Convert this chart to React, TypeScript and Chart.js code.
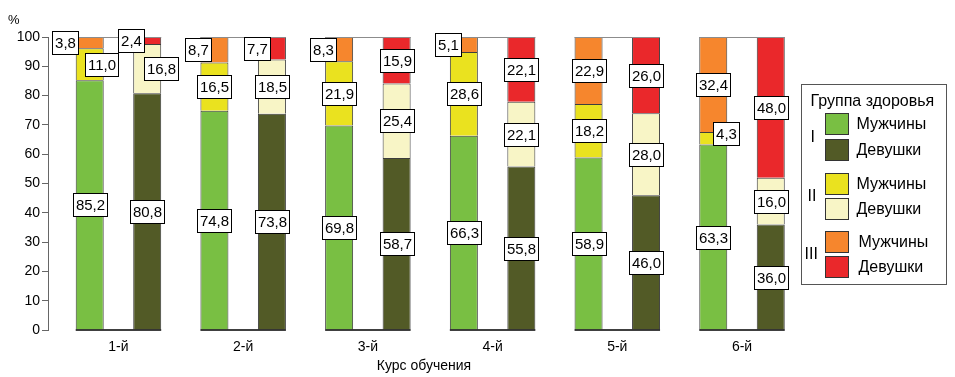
import React, { useEffect, useRef } from 'react';
import { Chart, registerables } from 'chart.js';

Chart.register(...registerables);

const courses = ['1-й', '2-й', '3-й', '4-й', '5-й', '6-й'];
const maleI = [85.2, 74.8, 69.8, 66.3, 58.9, 63.3];
const maleII = [11.0, 16.5, 21.9, 28.6, 18.2, 4.3];
const maleIII = [3.8, 8.7, 8.3, 5.1, 22.9, 32.4];
const femaleI = [80.8, 73.8, 58.7, 55.8, 46.0, 36.0];
const femaleII = [16.8, 18.5, 25.4, 22.1, 28.0, 16.0];
const femaleIII = [2.4, 7.7, 15.9, 22.1, 26.0, 48.0];
const groupNames = ['I', 'II', 'III'];
const sexNames = ['Мужчины', 'Девушки'];
const legendTitle = 'Группа здоровья';
const xTitle = 'Курс обучения';
const yUnit = '%';

const FONT = "'Liberation Sans', Arial, sans-serif";
const maleColors = ['#79BF43', '#EAE21F', '#F6862D'];
const femaleColors = ['#525A26', '#F8F5C6', '#EA282B'];

// nudges (px) for crowded labels, keyed "datasetIndex-categoryIndex": [dx, dy]
const labelNudge: Record<string, [number, number]> = {
  '2-0': [-25, 0], '1-0': [12, 0], '5-0': [-16, 0], '4-0': [14, 0],
  '2-1': [-16, 0], '5-1': [-15, 0], '2-2': [-16, 0], '2-3': [-16, 0], '1-5': [13, -5],
};

const toPoints = (arr: number[]) => arr.map((v, i) => ({ x: i, y: v }));

const fmt = (v: number) => v.toFixed(1).replace('.', ',');

const overlayPlugin = {
  id: 'overlay',
  afterDatasetsDraw(chart: any) {
    const ctx = chart.ctx as CanvasRenderingContext2D;
    const yScale = chart.scales.y;
    const y0 = yScale.getPixelForValue(0);
    const y100 = yScale.getPixelForValue(100);
    const mMeta = chart.getDatasetMeta(0);
    const fMeta = chart.getDatasetMeta(3);
    ctx.save();
    for (let i = 0; i < courses.length; i++) {
      const m = mMeta.data[i];
      const f = fMeta.data[i];
      const left = m.x - m.width / 2;
      const right = f.x + f.width / 2;
      ctx.strokeStyle = '#8c8c8c';
      ctx.lineWidth = 1;
      ctx.beginPath();
      ctx.moveTo(left, Math.round(y100) + 0.5);
      ctx.lineTo(right, Math.round(y100) + 0.5);
      ctx.stroke();
      ctx.strokeStyle = '#000';
      ctx.lineWidth = 1.5;
      ctx.beginPath();
      ctx.moveTo(left, y0);
      ctx.lineTo(right, y0);
      ctx.stroke();
    }
    // data labels
    ctx.font = `15px ${FONT}`;
    ctx.textAlign = 'center';
    ctx.textBaseline = 'middle';
    chart.data.datasets.forEach((ds: any, di: number) => {
      const meta = chart.getDatasetMeta(di);
      meta.data.forEach((el: any, i: number) => {
        const v = ds.data[i].y;
        const text = fmt(v);
        const tw = ctx.measureText(text).width;
        const bw = Math.round(tw + 5);
        const bh = 23;
        const [dx, dy] = labelNudge[`${di}-${i}`] || [0, 0];
        const cy = (el.y + el.base) / 2 + dy;
        const cx = el.x + dx;
        const bx = Math.round(cx - bw / 2) + 0.5;
        const by = Math.round(cy - bh / 2) + 0.5;
        ctx.fillStyle = '#fff';
        ctx.fillRect(bx, by, bw, bh);
        ctx.strokeStyle = '#000';
        ctx.lineWidth = 1;
        ctx.strokeRect(bx, by, bw, bh);
        ctx.fillStyle = '#000';
        ctx.fillText(text, bx + bw / 2, by + bh / 2 + 1);
      });
    });
    ctx.restore();
  },
  afterDraw(chart: any) {
    const ctx = chart.ctx as CanvasRenderingContext2D;
    const ca = chart.chartArea;
    ctx.save();
    // % unit
    ctx.font = `13px ${FONT}`;
    ctx.fillStyle = '#000';
    ctx.textAlign = 'left';
    ctx.textBaseline = 'middle';
    ctx.fillText(yUnit, 8, ca.top - 17);

    // legend box
    const lx = ca.right + 1.5;
    const ly = 84.5;
    const lw = 145;
    const lh = 200;
    ctx.strokeStyle = '#555';
    ctx.lineWidth = 1;
    ctx.fillStyle = '#fff';
    ctx.fillRect(lx, ly, lw, lh);
    ctx.strokeRect(lx, ly, lw, lh);
    ctx.fillStyle = '#000';
    ctx.font = `16px ${FONT}`;
    ctx.textAlign = 'left';
    ctx.fillText(legendTitle, lx + 9, ly + 17);

    const swX = lx + 24;
    const swW = 23;
    const swH = 21;
    const rowTops = [[113, 139], [173, 198], [231, 256]];
    const textX = [lx + 55, lx + 55, lx + 57];
    const romanX = [lx + 9, lx + 6, lx + 3];
    groupNames.forEach((g, gi) => {
      const tops = rowTops[gi];
      const cols = [maleColors[gi], femaleColors[gi]];
      tops.forEach((t, si) => {
        ctx.fillStyle = cols[si];
        ctx.fillRect(swX, t + 0.5, swW, swH);
        ctx.strokeStyle = '#333';
        ctx.strokeRect(swX, t + 0.5, swW, swH);
        ctx.fillStyle = '#000';
        ctx.font = `16px ${FONT}`;
        ctx.textAlign = 'left';
        ctx.fillText(sexNames[si], textX[gi], t + swH / 2 + 1);
      });
      ctx.font = `16px ${FONT}`;
      ctx.textAlign = 'left';
      ctx.fillText(g, romanX[gi], (tops[0] + tops[1] + swH) / 2 + 1);
    });
    ctx.restore();
  },
};

export default function App() {
  const canvasRef = useRef<HTMLCanvasElement | null>(null);

  useEffect(() => {
    document.body.style.margin = '0';
    const canvas = canvasRef.current;
    if (!canvas) return;
    const mk = (arr: number[], color: string, stack: string, label: string) => ({
      label,
      data: toPoints(arr),
      backgroundColor: color,
      borderColor: '#3d3d3d',
      borderWidth: 1,
      stack,
    });
    const chart = new Chart(canvas, {
      type: 'bar',
      data: {
        datasets: [
          mk(maleI, maleColors[0], 'M', 'I Мужчины'),
          mk(maleII, maleColors[1], 'M', 'II Мужчины'),
          mk(maleIII, maleColors[2], 'M', 'III Мужчины'),
          mk(femaleI, femaleColors[0], 'F', 'I Девушки'),
          mk(femaleII, femaleColors[1], 'F', 'II Девушки'),
          mk(femaleIII, femaleColors[2], 'F', 'III Девушки'),
        ] as any,
      },
      options: {
        animation: false,
        responsive: false,
        devicePixelRatio: 1,
        layout: { padding: { top: 37, right: 155, left: 0, bottom: 0 } },
        plugins: { legend: { display: false }, tooltip: { enabled: false } },
        datasets: { bar: { categoryPercentage: 0.922, barPercentage: 0.487 } } as any,
        scales: {
          x: {
            type: 'linear',
            bounds: 'data',
            offset: false,
            stacked: true,
            min: -0.565,
            max: 5.465,
            grid: { display: false, offset: false },
            border: { display: false },
            afterBuildTicks: (s: any) => {
              s.ticks = courses.map((_, i) => ({ value: i }));
            },
            ticks: {
              callback: (v: any) => courses[v] ?? '',
              font: { size: 14, family: FONT },
              color: '#000',
              padding: 1,
              maxRotation: 0,
              autoSkip: false,
            },
            title: {
              display: true,
              text: xTitle,
              font: { size: 14, family: FONT },
              color: '#000',
              padding: { top: 2, bottom: 2 },
            },
            afterFit: (s: any) => {
              s.height = 47;
            },
          },
          y: {
            stacked: true,
            min: 0,
            max: 100,
            ticks: {
              stepSize: 10,
              font: { size: 14, family: FONT },
              color: '#000',
              padding: 2,
            },
            grid: { drawOnChartArea: false, tickLength: 6, color: '#666', tickColor: '#666' },
            border: { color: '#666' },
            afterFit: (s: any) => {
              s.width = 48;
            },
          },
        } as any,
      },
      plugins: [overlayPlugin],
    });
    return () => chart.destroy();
  }, []);

  return (
    <div style={{ width: 955, height: 377 }}>
      <canvas ref={canvasRef} width={955} height={377} style={{ display: 'block' }} />
    </div>
  );
}
